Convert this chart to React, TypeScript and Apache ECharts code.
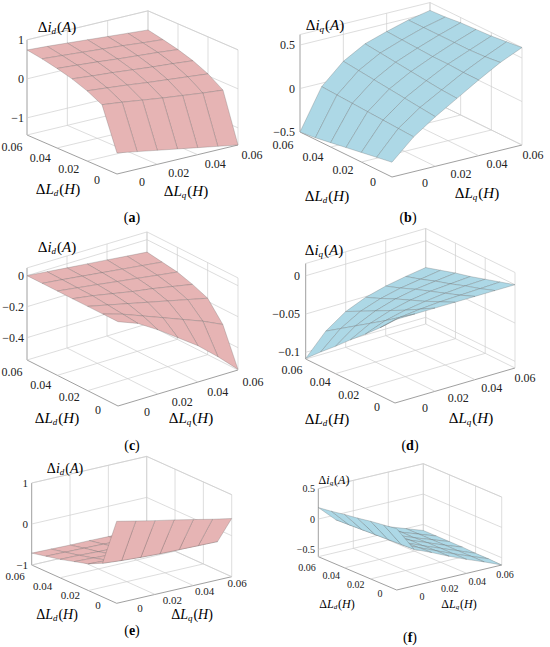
import React, { useEffect, useRef } from "react";
import * as echarts from "echarts";

// ---------------- data ----------------
const L_MAX = 0.06;
const LD_VALUES = [0, 0.01, 0.02, 0.03, 0.04, 0.05, 0.06];
const LQ_VALUES = [0, 0.01, 0.02, 0.03, 0.04, 0.05, 0.06];
const L_TICKS = [0, 0.02, 0.04, 0.06];
const L_TICK_LABELS = ["0", "0.02", "0.04", "0.06"];

// rows: ΔLd = 0 … 0.06, columns: ΔLq = 0 … 0.06
const DID_A = [
  [-0.9, -0.99, -1.08, -1.17, -1.26, -1.35, -1.44],
  [0.17, 0.11, 0.04, -0.03, -0.09, -0.15, -0.2],
  [0.36, 0.31, 0.26, 0.2, 0.15, 0.1, 0.05],
  [0.5, 0.45, 0.41, 0.36, 0.31, 0.27, 0.22],
  [0.6, 0.56, 0.52, 0.47, 0.43, 0.39, 0.34],
  [0.68, 0.64, 0.6, 0.56, 0.52, 0.47, 0.43],
  [0.74, 0.71, 0.67, 0.63, 0.59, 0.55, 0.51],
];
const DIQ_B = [
  [-0.33, -0.1, 0.07, 0.22, 0.37, 0.51, 0.62],
  [-0.36, -0.09, 0.09, 0.23, 0.37, 0.49, 0.6],
  [-0.39, -0.08, 0.11, 0.25, 0.38, 0.48, 0.58],
  [-0.42, -0.07, 0.13, 0.27, 0.38, 0.48, 0.57],
  [-0.45, -0.06, 0.15, 0.29, 0.39, 0.48, 0.56],
  [-0.48, -0.05, 0.17, 0.31, 0.4, 0.48, 0.54],
  [-0.5, -0.04, 0.19, 0.33, 0.41, 0.48, 0.53],
];
const DID_C = [
  [0, -0.05, -0.13, -0.22, -0.31, -0.42, -0.54],
  [0, -0.04, -0.09, -0.14, -0.19, -0.24, -0.3],
  [0, -0.03, -0.06, -0.09, -0.12, -0.15, -0.18],
  [0, -0.02, -0.045, -0.07, -0.09, -0.115, -0.14],
  [0, -0.018, -0.036, -0.055, -0.073, -0.092, -0.11],
  [0, -0.015, -0.031, -0.047, -0.063, -0.079, -0.095],
  [0, -0.013, -0.027, -0.04, -0.053, -0.067, -0.08],
];
const DIQ_D = [
  [0, 0, 0, 0, 0, 0, 0],
  [-0.02, -0.014, -0.011, -0.009, -0.008, -0.007, -0.006],
  [-0.038, -0.028, -0.022, -0.018, -0.015, -0.013, -0.012],
  [-0.055, -0.041, -0.032, -0.026, -0.022, -0.02, -0.018],
  [-0.073, -0.054, -0.042, -0.034, -0.029, -0.026, -0.023],
  [-0.09, -0.067, -0.052, -0.043, -0.037, -0.033, -0.029],
  [-0.108, -0.08, -0.062, -0.051, -0.044, -0.039, -0.035],
];
const DID_E = [
  [1.0, 0.9, 0.8, 0.71, 0.61, 0.51, 0.42],
  [-0.18, -0.22, -0.25, -0.27, -0.28, -0.29, -0.3],
  [-0.35, -0.37, -0.39, -0.4, -0.41, -0.42, -0.43],
  [-0.45, -0.47, -0.49, -0.5, -0.51, -0.52, -0.53],
  [-0.55, -0.56, -0.58, -0.59, -0.6, -0.61, -0.62],
  [-0.63, -0.64, -0.65, -0.66, -0.67, -0.68, -0.69],
  [-0.71, -0.72, -0.73, -0.73, -0.74, -0.74, -0.75],
];
const DIQ_F = [
  [0.39, -0.02, -0.14, -0.27, -0.39, -0.5, -0.62],
  [0.36, -0.03, -0.15, -0.27, -0.39, -0.5, -0.61],
  [0.33, -0.04, -0.16, -0.28, -0.39, -0.5, -0.61],
  [0.29, -0.05, -0.17, -0.28, -0.39, -0.5, -0.6],
  [0.26, -0.06, -0.18, -0.29, -0.4, -0.5, -0.6],
  [0.22, -0.07, -0.19, -0.29, -0.4, -0.5, -0.6],
  [0.19, -0.08, -0.2, -0.3, -0.4, -0.5, -0.6],
];

const Z_TICKS_A = [-1, 0, 1];
const Z_LABELS_A = ["\u22121", "0", "1"];
const Z_TICKS_B = [-0.5, 0, 0.5];
const Z_LABELS_B = ["\u22120.5", "0", "0.5"];
const Z_TICKS_C = [-0.4, -0.2, 0];
const Z_LABELS_C = ["\u22120.4", "\u22120.2", "0"];
const Z_TICKS_D = [-0.1, -0.05, 0];
const Z_LABELS_D = ["\u22120.1", "\u22120.05", "0"];
const Z_TICKS_E = [-1, 0, 1];
const Z_LABELS_E = ["\u22121", "0", "1"];
const Z_TICKS_F = [-0.5, 0, 0.5];
const Z_LABELS_F = ["\u22120.5", "0", "0.5"];

// ---------------- styles / layout ----------------
const SERIF = "Liberation Serif";
const PINK = "#E6B4B4";
const BLUE = "#ADD8E6";
const GRID_COLOR = "#cfcfcf";
const AXIS_COLOR = "#959595";
const EDGE_COLOR = "rgba(95,95,95,0.45)";

type Pt = [number, number];
interface Panel {
  letter: string;
  current: string;
  values: number[][];
  zTicks: number[];
  zLabels: string[];
  color: string;
  origin: Pt;
  vLd: Pt;
  vLq: Pt;
  zMin: number;
  zMax: number;
  zScale: number;
  zLabRight: number;
  ldLab0: Pt;
  ldLab6: Pt;
  lqLab0: Pt;
  lqLab6: Pt;
  zName: Pt;
  ldName: Pt;
  lqName: Pt;
  caption: Pt;
  tickFont: number;
  nameFont: number;
}

const PANELS: Panel[] = [
  {
    letter: "a", current: "d", values: DID_A, zTicks: Z_TICKS_A, zLabels: Z_LABELS_A, color: PINK,
    origin: [117, 174], vLd: [-90, -39], vLq: [121, -29], zMin: -1.44, zMax: 1, zScale: 39,
    zLabRight: 24, ldLab0: [97, 180], ldLab6: [12, 147], lqLab0: [142, 182], lqLab6: [252, 155],
    zName: [57, 27], ldName: [58, 189], lqName: [186, 191], caption: [132, 217], tickFont: 12, nameFont: 15,
  },
  {
    letter: "b", current: "q", values: DIQ_B, zTicks: Z_TICKS_B, zLabels: Z_LABELS_B, color: BLUE,
    origin: [392, 177], vLd: [-92, -45], vLq: [130, -32], zMin: -0.5, zMax: 0.62, zScale: 87,
    zLabRight: 295, ldLab0: [373, 182], ldLab6: [283, 145], lqLab0: [425, 183], lqLab6: [533, 155],
    zName: [325, 25], ldName: [327, 196], lqName: [477, 193], caption: [408, 217], tickFont: 12, nameFont: 15,
  },
  {
    letter: "c", current: "d", values: DID_C, zTicks: Z_TICKS_C, zLabels: Z_LABELS_C, color: PINK,
    origin: [118, 406], vLd: [-91, -46], vLq: [120, -36], zMin: -0.544, zMax: 0.05, zScale: 155,
    zLabRight: 24, ldLab0: [98, 410], ldLab6: [12, 372], lqLab0: [147, 412], lqLab6: [253, 382],
    zName: [57, 247], ldName: [57, 418], lqName: [191, 418], caption: [132, 445], tickFont: 12, nameFont: 15,
  },
  {
    letter: "d", current: "q", values: DIQ_D, zTicks: Z_TICKS_D, zLabels: Z_LABELS_D, color: BLUE,
    origin: [395, 403], vLd: [-89.3, -44], vLq: [120, -35], zMin: -0.1087, zMax: 0.016, zScale: 766,
    zLabRight: 300, ldLab0: [377, 407], ldLab6: [292, 370], lqLab0: [425, 408], lqLab6: [525, 378],
    zName: [324, 250], ldName: [327, 419], lqName: [471, 418], caption: [410, 445], tickFont: 12, nameFont: 15,
  },
  {
    letter: "e", current: "d", values: DID_E, zTicks: Z_TICKS_E, zLabels: Z_LABELS_E, color: PINK,
    origin: [116.7, 603.3], vLd: [-85, -38.3], vLq: [115, -26.6], zMin: -1, zMax: 1, zScale: 41,
    zLabRight: 28, ldLab0: [98, 605], ldLab6: [15, 576], lqLab0: [140, 608], lqLab6: [237, 583],
    zName: [65, 468], ldName: [57, 614], lqName: [192, 614], caption: [132, 630], tickFont: 11, nameFont: 14,
  },
  {
    letter: "f", current: "q", values: DIQ_F, zTicks: Z_TICKS_F, zLabels: Z_LABELS_F, color: BLUE,
    origin: [396.7, 590], vLd: [-78.4, -33.3], vLq: [105, -25], zMin: -0.62, zMax: 0.5, zScale: 60.7,
    zLabRight: 315, ldLab0: [380, 593], ldLab6: [307, 567], lqLab0: [422, 596], lqLab6: [505, 574],
    zName: [334, 480], ldName: [337, 604], lqName: [459, 604], caption: [410, 637], tickFont: 10, nameFont: 12,
  },
];

const lerp = (a: number, b: number, t: number) => a + (b - a) * t;

function nameRich(size: number) {
  return {
    n: { fontFamily: SERIF, fontSize: size, fill: "#000" },
    i: { fontFamily: SERIF, fontSize: size, fontStyle: "italic", fill: "#000" },
    s: {
      fontFamily: SERIF,
      fontSize: Math.round(size * 0.62),
      fontStyle: "italic",
      fill: "#000",
      padding: [Math.round(size * 0.5), 1, 0, 0],
    },
  };
}

function buildOption() {
  const series: any[] = [];
  const graphic: any[] = [];

  PANELS.forEach((p) => {
    const proj = (ld: number, lq: number, z: number): Pt => {
      const a = ld / L_MAX;
      const b = lq / L_MAX;
      return [
        p.origin[0] + a * p.vLd[0] + b * p.vLq[0],
        p.origin[1] + a * p.vLd[1] + b * p.vLq[1] - (z - p.zMin) * p.zScale,
      ];
    };

    // ----- box grid (floor + two back walls) -----
    const segs: number[][] = [];
    const zLines = [...p.zTicks, p.zMax];
    L_TICKS.forEach((t) => {
      segs.push([t, 0, p.zMin, t, L_MAX, p.zMin, t === 0 ? 1 : 0]);
      segs.push([0, t, p.zMin, L_MAX, t, p.zMin, t === 0 ? 1 : 0]);
      segs.push([L_MAX, t, p.zMin, L_MAX, t, p.zMax, t === 0 ? 1 : 0]);
      segs.push([t, L_MAX, p.zMin, t, L_MAX, p.zMax, 0]);
    });
    zLines.forEach((z) => {
      segs.push([L_MAX, 0, z, L_MAX, L_MAX, z, 0]);
      segs.push([0, L_MAX, z, L_MAX, L_MAX, z, 0]);
    });
    series.push({
      type: "custom",
      coordinateSystem: "none",
      silent: true,
      z: 1,
      data: segs,
      renderItem: (_params: any, api: any) => {
        const a = proj(api.value(0), api.value(1), api.value(2));
        const b = proj(api.value(3), api.value(4), api.value(5));
        const axis = api.value(6) === 1;
        return {
          type: "line",
          shape: { x1: a[0], y1: a[1], x2: b[0], y2: b[1] },
          style: { stroke: axis ? AXIS_COLOR : GRID_COLOR, lineWidth: axis ? 0.9 : 0.7 },
        };
      },
    });

    // ----- surface cells, far to near -----
    const cells: number[][] = [];
    for (let i = 0; i < LD_VALUES.length - 1; i++) {
      for (let j = 0; j < LQ_VALUES.length - 1; j++) {
        cells.push([
          LD_VALUES[i], LD_VALUES[i + 1], LQ_VALUES[j], LQ_VALUES[j + 1],
          p.values[i][j], p.values[i + 1][j], p.values[i + 1][j + 1], p.values[i][j + 1],
        ]);
      }
    }
    const floorY = (c: number[]) => proj((c[0] + c[1]) / 2, (c[2] + c[3]) / 2, p.zMin)[1];
    cells.sort((c1, c2) => floorY(c1) - floorY(c2));
    series.push({
      type: "custom",
      coordinateSystem: "none",
      silent: true,
      z: 2,
      data: cells,
      renderItem: (_params: any, api: any) => {
        const ld0 = api.value(0), ld1 = api.value(1), lq0 = api.value(2), lq1 = api.value(3);
        const pts = [
          proj(ld0, lq0, api.value(4)),
          proj(ld1, lq0, api.value(5)),
          proj(ld1, lq1, api.value(6)),
          proj(ld0, lq1, api.value(7)),
        ];
        return {
          type: "polygon",
          shape: { points: pts },
          style: { fill: p.color, stroke: EDGE_COLOR, lineWidth: 0.6, lineJoin: "round" },
        };
      },
    });

    // ----- tick labels -----
    const tickItems: number[][] = [];
    const tickTexts: string[] = [];
    L_TICKS.forEach((t, k) => {
      tickItems.push([0, t]);
      tickTexts.push(L_TICK_LABELS[k]);
    });
    L_TICKS.forEach((t, k) => {
      tickItems.push([1, t]);
      tickTexts.push(L_TICK_LABELS[k]);
    });
    p.zTicks.forEach((z, k) => {
      tickItems.push([2, z]);
      tickTexts.push(p.zLabels[k]);
    });
    series.push({
      type: "custom",
      coordinateSystem: "none",
      silent: true,
      z: 3,
      data: tickItems,
      renderItem: (params: any, api: any) => {
        const kind = api.value(0);
        const v = api.value(1);
        let x = 0;
        let y = 0;
        let align = "center";
        if (kind === 0) {
          const f = v / L_MAX;
          x = lerp(p.ldLab0[0], p.ldLab6[0], f);
          y = lerp(p.ldLab0[1], p.ldLab6[1], f);
        } else if (kind === 1) {
          const f = v / L_MAX;
          x = lerp(p.lqLab0[0], p.lqLab6[0], f);
          y = lerp(p.lqLab0[1], p.lqLab6[1], f);
        } else {
          x = p.zLabRight;
          y = proj(L_MAX, 0, v)[1];
          align = "right";
        }
        return {
          type: "text",
          style: {
            text: tickTexts[params.dataIndex],
            x,
            y,
            align,
            verticalAlign: "middle",
            fontFamily: SERIF,
            fontSize: p.tickFont,
            fill: "#222",
          },
        };
      },
    });

    // ----- axis names & caption -----
    const rich = nameRich(p.nameFont);
    graphic.push({
      type: "text",
      x: p.zName[0],
      y: p.zName[1],
      z: 10,
      style: {
        text: `{n|\u0394}{i|i}{s|${p.current}}{n|(}{i|A}{n|)}`,
        rich,
        fontFamily: SERIF,
        align: "center",
        verticalAlign: "middle",
      },
    });
    graphic.push({
      type: "text",
      x: p.ldName[0],
      y: p.ldName[1],
      z: 10,
      style: {
        text: "{n|\u0394}{i|L}{s|d}{n|(}{i|H}{n|)}",
        rich,
        fontFamily: SERIF,
        align: "center",
        verticalAlign: "middle",
      },
    });
    graphic.push({
      type: "text",
      x: p.lqName[0],
      y: p.lqName[1],
      z: 10,
      style: {
        text: "{n|\u0394}{i|L}{s|q}{n|(}{i|H}{n|)}",
        rich,
        fontFamily: SERIF,
        align: "center",
        verticalAlign: "middle",
      },
    });
    graphic.push({
      type: "text",
      x: p.caption[0],
      y: p.caption[1],
      z: 10,
      style: {
        text: `{n|(}{b|${p.letter}}{n|)}`,
        fontFamily: SERIF,
        rich: {
          n: { fontFamily: SERIF, fontSize: 14, fill: "#000" },
          b: { fontFamily: SERIF, fontSize: 14, fontWeight: "bold", fill: "#000" },
        },
        align: "center",
        verticalAlign: "middle",
      },
    });
  });

  return {
    animation: false,
    backgroundColor: "#ffffff",
    textStyle: { fontFamily: SERIF },
    series,
    graphic: { elements: graphic },
  };
}

export default function App() {
  const ref = useRef<HTMLDivElement | null>(null);
  useEffect(() => {
    document.body.style.margin = "0";
    if (!ref.current) return;
    const chart = echarts.init(ref.current, undefined, { renderer: "svg" });
    chart.setOption(buildOption() as any);
    return () => {
      chart.dispose();
    };
  }, []);
  return <div ref={ref} style={{ width: 550, height: 647 }} />;
}
